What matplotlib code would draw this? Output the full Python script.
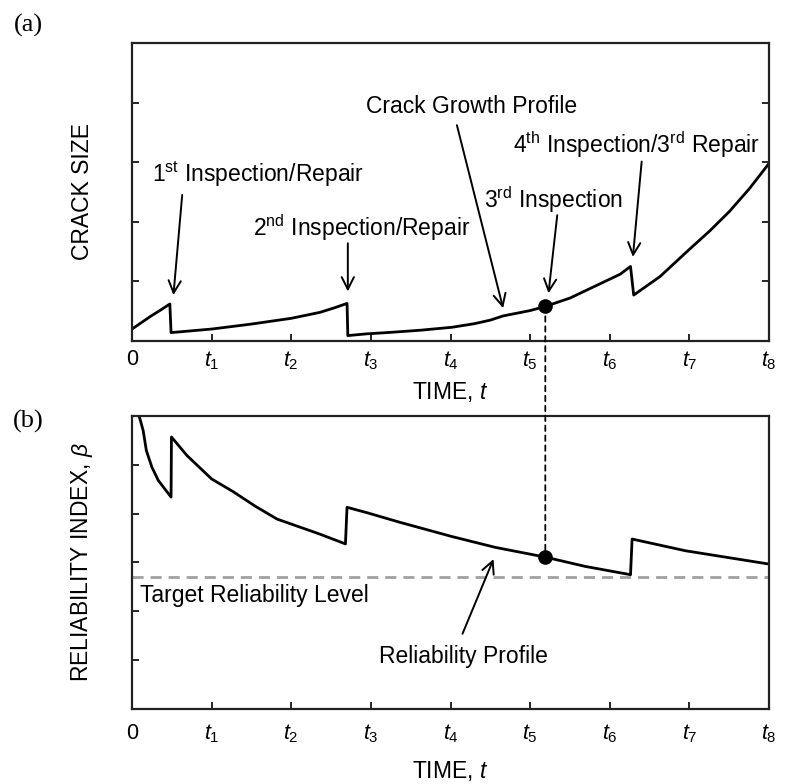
import matplotlib
matplotlib.use("Agg")
import matplotlib.pyplot as plt
from matplotlib.patches import ConnectionPatch

plt.rcParams['font.family'] = ['Liberation Sans', 'DejaVu Sans']
plt.rcParams['mathtext.fontset'] = 'custom'
plt.rcParams['mathtext.rm'] = 'Liberation Sans'
plt.rcParams['mathtext.it'] = 'Liberation Sans:italic'
plt.rcParams['mathtext.bf'] = 'Liberation Sans:bold'

# time axis ticks (0 .. t8)
tick_pos = [0, 1, 2, 3, 4, 5, 6, 7, 8]
tick_labels = ['0'] + [r'$t_%d$' % i for i in range(1, 9)]

# crack growth profile (a); repeated times are the repairs
crack_t = [0.0, 0.12, 0.24, 0.36, 0.475,
           0.49, 1.0, 1.48, 2.0, 2.36, 2.55, 2.70,
           2.71, 2.95, 3.2, 3.62, 4.02, 4.3, 4.5, 4.66, 5.0, 5.19, 5.5, 5.8, 6.13, 6.26,
           6.30, 6.63, 7.01, 7.25, 7.5, 7.75, 8.0]
crack_a = [0.20, 0.31, 0.42, 0.52, 0.62,
           0.14, 0.20, 0.28, 0.38, 0.48, 0.56, 0.63,
           0.09, 0.12, 0.14, 0.18, 0.23, 0.29, 0.35, 0.42, 0.51, 0.58, 0.72, 0.91, 1.12, 1.25,
           0.77, 1.08, 1.55, 1.84, 2.17, 2.55, 2.98]

# reliability profile (b)
rel_t = [0.08, 0.11, 0.14, 0.18, 0.25, 0.33, 0.49,
         0.495, 0.69, 1.0, 1.27, 1.55, 1.82, 2.36, 2.68,
         2.70, 2.95, 3.18, 3.37, 4.02, 4.56, 5.19, 5.69, 6.26,
         6.28, 6.95, 7.99]
rel_beta = [6.05, 5.88, 5.70, 5.29, 4.95, 4.68, 4.34,
            5.57, 5.19, 4.71, 4.45, 4.15, 3.89, 3.58, 3.38,
            4.13, 4.02, 3.91, 3.82, 3.53, 3.31, 3.11, 2.92, 2.75,
            3.48, 3.24, 2.97]

target_beta = 2.70
t_insp3 = 5.19
a_insp3 = 0.58
beta_insp3 = 3.11

fig = plt.figure(figsize=(7.85, 7.84), dpi=100)
ax1 = fig.add_axes([0.1682, 0.5651, 0.8115, 0.3801])
ax2 = fig.add_axes([0.1682, 0.0957, 0.8115, 0.3737])

for ax, pad in ((ax1, 6), (ax2, 10)):
    ax.set_xlim(0, 8)
    ax.set_xticks(tick_pos)
    ax.set_xticklabels(tick_labels, fontsize=15.5)
    for sp in ax.spines.values():
        sp.set_linewidth(1.6)
        sp.set_color('#222222')

ax1.set_ylim(0, 5)
ax1.set_yticks([1, 2, 3, 4])
ax1.tick_params(direction='in', length=5, width=1.2, left=True, right=True,
                bottom=True, top=False, labelleft=False)
ax1.tick_params(axis='x', pad=6)
ax2.set_ylim(0, 6)
ax2.set_yticks([1, 2, 3, 4, 5])
ax2.tick_params(direction='in', length=5, width=1.2, left=True, right=False,
                bottom=True, top=False, labelleft=False)
ax2.tick_params(axis='x', pad=10)

# (a) crack size
ax1.plot(crack_t, crack_a, color='black', lw=2.0, solid_joinstyle='round')
ax1.plot([t_insp3], [a_insp3], 'o', color='black', ms=9.5, zorder=5)

ax1.text(-0.0785, 0.5, 'CRACK SIZE', transform=ax1.transAxes, rotation=90,
         ha='center', va='center', fontsize=16.5)
ax1.text(0.5, -0.171, r'TIME, $t$', transform=ax1.transAxes,
         ha='center', va='center', fontsize=16.5)

arrow = dict(arrowstyle='->', color='black', lw=1.4, shrinkA=0, shrinkB=0,
             mutation_scale=22)
fs = 16.5
ax1.text(1.58, 2.79, r'1$^{\rm st}$ Inspection/Repair', ha='center', va='center', fontsize=fs)
ax1.annotate('', xy=(0.52, 0.77), xytext=(0.63, 2.45), arrowprops=arrow)
ax1.text(2.89, 1.90, r'2$^{\rm nd}$ Inspection/Repair', ha='center', va='center', fontsize=fs)
ax1.annotate('', xy=(2.71, 0.83), xytext=(2.71, 1.64), arrowprops=arrow)
ax1.text(4.26, 3.94, 'Crack Growth Profile', ha='center', va='center', fontsize=fs)
ax1.annotate('', xy=(4.66, 0.55), xytext=(4.08, 3.62), arrowprops=arrow)
ax1.text(5.29, 2.37, r'3$^{\rm rd}$ Inspection', ha='center', va='center', fontsize=fs)
ax1.annotate('', xy=(5.23, 0.80), xytext=(5.34, 2.11), arrowprops=arrow)
ax1.text(6.34, 3.29, r'4$^{\rm th}$ Inspection/3$^{\rm rd}$ Repair', ha='center',
         va='center', fontsize=fs)
ax1.annotate('', xy=(6.29, 1.41), xytext=(6.40, 3.01), arrowprops=arrow)

# (b) reliability index
ax2.axhline(target_beta, color='#a0a0a0', lw=2.0, dashes=(4, 2.5))
ax2.plot(rel_t, rel_beta, color='black', lw=2.0, solid_joinstyle='round')
ax2.plot([t_insp3], [beta_insp3], 'o', color='black', ms=9.5, zorder=5)

ax2.text(-0.0785, 0.5, r'RELIABILITY INDEX, $\beta$', transform=ax2.transAxes,
         rotation=90, ha='center', va='center', fontsize=16.5)
ax2.text(0.5, -0.2116, r'TIME, $t$', transform=ax2.transAxes,
         ha='center', va='center', fontsize=16.5)
ax2.text(0.1, 2.32, 'Target Reliability Level', ha='left', va='center', fontsize=fs)
ax2.text(4.16, 1.07, 'Reliability Profile', ha='center', va='center', fontsize=fs)
ax2.annotate('', xy=(4.54, 3.07), xytext=(4.15, 1.54), arrowprops=arrow)

# dashed link between the 3rd inspection points
con = ConnectionPatch(xyA=(t_insp3, a_insp3), coordsA=ax1.transData,
                      xyB=(t_insp3, beta_insp3), coordsB=ax2.transData,
                      color='black', lw=1.3, linestyle=(0, (3, 2.5)), zorder=1)
fig.add_artist(con)

fig.text(0.036, 0.968, '(a)', ha='center', va='center', fontsize=19,
         family='Liberation Serif')
fig.text(0.036, 0.463, '(b)', ha='center', va='center', fontsize=19,
         family='Liberation Serif')

fig.savefig('out.png', dpi=100)
